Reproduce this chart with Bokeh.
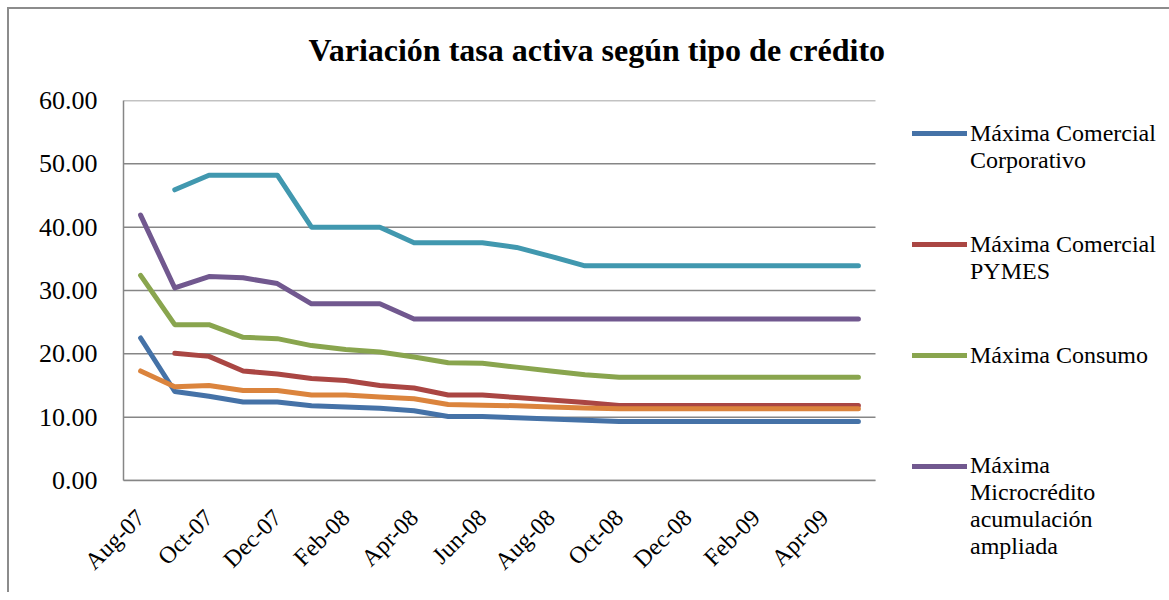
import math
from bokeh.plotting import figure
from bokeh.models import Range1d, NumeralTickFormatter, FixedTicker, Legend, LegendItem, ColumnDataSource
from bokeh.embed import file_html
from bokeh.resources import INLINE

nan = float("nan")

months = ["Aug-07", "Sep-07", "Oct-07", "Nov-07", "Dec-07", "Jan-08", "Feb-08", "Mar-08",
          "Apr-08", "May-08", "Jun-08", "Jul-08", "Aug-08", "Sep-08", "Oct-08", "Nov-08",
          "Dec-08", "Jan-09", "Feb-09", "Mar-09", "Apr-09", "May-09"]

corporativo = [22.5, 14.05, 13.3, 12.4, 12.4, 11.8, 11.6, 11.4, 11.0, 10.1, 10.1, 9.9, 9.7, 9.5,
               9.33, 9.33, 9.33, 9.33, 9.33, 9.33, 9.33, 9.33]
pymes = [nan, 20.1, 19.6, 17.3, 16.8, 16.1, 15.8, 15.0, 14.6, 13.5, 13.5, 13.1, 12.7, 12.3,
         11.83, 11.83, 11.83, 11.83, 11.83, 11.83, 11.83, 11.83]
consumo = [32.4, 24.6, 24.6, 22.6, 22.4, 21.3, 20.7, 20.3, 19.5, 18.6, 18.5, 17.9, 17.3, 16.7,
           16.3, 16.3, 16.3, 16.3, 16.3, 16.3, 16.3, 16.3]
micro_ampliada = [41.9, 30.4, 32.2, 32.0, 31.1, 27.9, 27.9, 27.9, 25.5, 25.5, 25.5, 25.5, 25.5,
                  25.5, 25.5, 25.5, 25.5, 25.5, 25.5, 25.5, 25.5, 25.5]
micro_minorista = [nan, 45.9, 48.2, 48.2, 48.2, 40.0, 40.0, 40.0, 37.55, 37.55, 37.55, 36.8, 35.4,
                   33.9, 33.9, 33.9, 33.9, 33.9, 33.9, 33.9, 33.9, 33.9]
vivienda = [17.3, 14.8, 15.0, 14.2, 14.2, 13.5, 13.5, 13.2, 12.9, 12.0, 11.9, 11.8, 11.6, 11.45,
            11.33, 11.33, 11.33, 11.33, 11.33, 11.33, 11.33, 11.33]

y_ticks = [0, 10, 20, 30, 40, 50, 60]

# legend text lines per series (None: not in the visible part of the legend)
labels = [
    ["Máxima Comercial", "Corporativo"],
    ["Máxima Comercial", "PYMES"],
    ["Máxima Consumo"],
    ["Máxima", "Microcrédito", "acumulación", "ampliada"],
    None,
    None,
]
values = [corporativo, pymes, consumo, micro_ampliada, micro_minorista, vivienda]
colors = ["#4572A7", "#AA4643", "#89A54E", "#71588F", "#4198AF", "#DB843D"]

FONT = "Liberation Serif"
GRID = "#868686"
LINE_W = 5

PLOT_W = 752          # width of the chart area proper
KEY_AREA = 95         # the frame goes on to the right to hold the legend key lines
n = len(months)
x_lo, x_hi = -0.5, n - 0.5
px_per_unit = PLOT_W / (x_hi - x_lo)
x_view_hi = x_lo + (PLOT_W + KEY_AREA) / px_per_unit

p = figure(frame_width=PLOT_W + KEY_AREA, frame_height=380,
           min_border_left=123, min_border_right=191, min_border_top=100, min_border_bottom=112,
           x_range=Range1d(x_lo, x_view_hi), y_range=Range1d(y_ticks[0], y_ticks[-1]),
           output_backend="svg", toolbar_location=None,
           title="Variación tasa activa según tipo de crédito")
p.border_fill_color = None
p.background_fill_color = "white"
p.styles = {
    "background-image": "linear-gradient(#8c8c8c, #8c8c8c), linear-gradient(#8c8c8c, #8c8c8c)",
    "background-size": "2px 100%, 100% 2px",
    "background-position": "7px 7px, 7px 7px",
    "background-repeat": "no-repeat",
}

p.title.text_font = FONT
p.title.text_font_size = "32px"
p.title.text_font_style = "bold"
p.title.align = "left"
p.title.offset = 185
p.title.vertical_align = "top"
p.title.standoff = 62
p.title.text_color = "#000000"

p.outline_line_color = None
p.xgrid.visible = False
p.ygrid.visible = False
# horizontal gridlines over the category span only
p.segment(x0=[x_lo] * len(y_ticks), x1=[x_hi] * len(y_ticks), y0=y_ticks, y1=y_ticks,
          line_color=GRID, line_width=1.5)

p.yaxis.ticker = FixedTicker(ticks=y_ticks)
p.yaxis.formatter = NumeralTickFormatter(format="0.00")
p.xaxis.ticker = FixedTicker(ticks=list(range(0, n, 2)))
p.xaxis.major_label_overrides = {i: m for i, m in enumerate(months)}
p.xaxis.major_label_orientation = math.pi / 4
p.xaxis.bounds = (x_lo, x_hi)

for ax in (p.xaxis, p.yaxis):
    ax.axis_line_color = GRID
    ax.axis_line_width = 1.5
    ax.major_tick_line_color = None
    ax.minor_tick_line_color = None
    ax.major_label_text_font = FONT
    ax.major_label_text_color = "#000000"
p.yaxis.major_label_text_font_size = "26px"
p.yaxis.major_label_standoff = 20
p.xaxis.major_label_text_font_size = "24px"
p.xaxis.major_label_standoff = 27

xs = list(range(n))
renderers = []
for vals, color in zip(values, colors):
    src = ColumnDataSource(dict(x=xs, y=vals))
    renderers.append(p.line("x", "y", source=src, line_color=color, line_width=LINE_W,
                            line_cap="round", line_join="round"))

STEP = 111        # distance between legend entries
FIRST = 133       # y of first key line (page px)
FRAME_TOP, FRAME_BOTTOM = 100, 480
shown = [i for i, lab in enumerate(labels) if lab is not None]

# ---- legend key lines (inside the frame, right of the chart area) ----
KEY_H = 6
key_items = [LegendItem(label=" ", renderers=[renderers[i]]) for i in shown]
key_h = len(key_items) * KEY_H + (len(key_items) - 1) * (STEP - KEY_H)
keys = Legend(items=key_items,
              location=(PLOT_W + 37, int(round(FRAME_BOTTOM - (FIRST - KEY_H / 2) - key_h))))
keys.label_text_font_size = "1px"
keys.glyph_width = 55
keys.glyph_height = KEY_H
keys.label_height = KEY_H
keys.label_standoff = 0
keys.spacing = STEP - KEY_H
keys.margin = 0
keys.padding = 0
keys.border_line_color = None
keys.background_fill_alpha = 0
p.add_layout(keys, "center")

# ---- legend texts (right of the frame); first text line level with the key line ----
ROW = 82
text_items = []
for i in shown:
    lab = labels[i]
    pad = len(lab) - 1 if len(lab) <= 2 else 1
    block = "\n".join([" "] * pad + lab)
    no_key = p.line(x=[], y=[], line_color=colors[i], line_width=LINE_W)
    text_items.append(LegendItem(label=block, renderers=[no_key]))

LINE_PITCH = 27
long_h = (len(labels[shown[-1]]) + 1) * LINE_PITCH
legend_h = 3 * ROW + long_h + 3 * (STEP - ROW)
top = FIRST - ROW / 2
texts = Legend(items=text_items, location=(0, int(round(FRAME_BOTTOM - top - legend_h))))
texts.label_text_font = FONT
texts.label_text_font_size = "24px"
texts.label_text_color = "#000000"
texts.glyph_width = 0
texts.glyph_height = 28
texts.label_height = ROW
texts.label_standoff = 0
texts.spacing = STEP - ROW
texts.margin = 0
texts.padding = 0
texts.border_line_color = None
texts.background_fill_alpha = 0
p.add_layout(texts, "right")

open("out.html", "w").write(file_html(p, INLINE))
